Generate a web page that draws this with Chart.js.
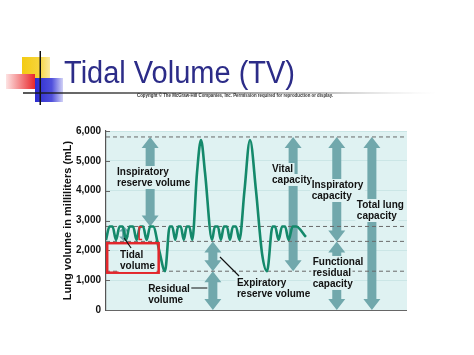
<!DOCTYPE html>
<html>
<head>
<meta charset="utf-8">
<script src="https://cdn.jsdelivr.net/npm/chart.js@4.4.0/dist/chart.umd.min.js"></script>
<style>
  html, body { margin: 0; padding: 0; background: #fff; }
  canvas { display: block; }
</style>
</head>
<body>
<canvas id="chart-area" width="474" height="355"></canvas>
<script>
// spirogram trace: time (s) and lung volume (mL)
const traceTime = [0.0, 0.35, 0.65, 1.0, 1.35, 1.65, 2.0, 2.35, 2.7, 3.05, 3.4, 3.7, 4.05, 4.4, 4.7, 5.3, 5.88,
  6.35, 6.6, 6.9, 7.2, 7.45, 7.75, 8.05, 8.3, 8.6, 9.07, 9.47, 9.87, 10.57,
  10.85, 11.15, 11.45, 11.75, 12.05, 12.35, 12.65, 12.95, 13.3, 13.8, 14.35, 14.95, 15.55, 16.05,
  16.6, 16.85, 17.2, 17.55, 17.85, 18.2, 18.6, 18.95, 19.93];
const traceVolume = [2350, 2800, 2800, 2350, 2800, 2800, 2350, 2800, 2800, 2350, 2800, 2800, 2350, 2800, 2800, 2000, 1300,
  2800, 2800, 2350, 2800, 2800, 2350, 2800, 2800, 2350, 4600, 5700, 4600, 2350,
  2800, 2800, 2350, 2800, 2800, 2350, 2800, 2800, 2350, 4000, 5700, 4000, 1900, 1300,
  2800, 2800, 2350, 2800, 2800, 2350, 2800, 2800, 2450];

// dashed reference levels (mL)
const levels = [5800, 2800, 2300, 1300];

const yTickLabels = ['0', '1,000', '2,000', '3,000', '4,000', '5,000', '6,000'];

// double arrows: position (s), from / to (mL)
const arrowTime = [4.4, 1.8, 10.65, 10.65, 18.65, 23.0, 23.0, 26.5];
const arrowFrom = [2800, 2300, 1300, 0, 1300, 2300, 0, 0];
const arrowTo = [5800, 2800, 2300, 1300, 5800, 5800, 2300, 5800];

// labels
const labelLines = [
  ['Inspiratory', 'reserve volume'],
  ['Vital', 'capacity'],
  ['Inspiratory', 'capacity'],
  ['Total lung', 'capacity'],
  ['Functional', 'residual', 'capacity'],
  ['Expiratory', 'reserve volume'],
  ['Residual', 'volume'],
  ['Tidal', 'volume']
];
const labelTime = [1.1, 16.55, 20.5, 25.0, 20.6, 13.05, 4.2, 1.4];
const labelVolume = [4625, 4726, 4190, 3520, 1610, 905, 704, 1844];

// leader lines [t0, v0, t1, v1]
const leaders = [
  [2.5, 2078, 1.8, 2413],
  [8.5, 737, 10.1, 737],
  [11.36, 1777, 13.26, 1140]
];

const panelColor = '#dff2f2';
const arrowColor = '#71a8ac';
const textFont = 'bold 10px "Liberation Sans", Arial, sans-serif';

function arrow(c, x, yTop, yBot, shaftW, headW, headH) {
  c.beginPath();
  c.moveTo(x, yTop);
  c.lineTo(x + headW / 2, yTop + headH);
  c.lineTo(x + shaftW / 2, yTop + headH);
  c.lineTo(x + shaftW / 2, yBot - headH);
  c.lineTo(x + headW / 2, yBot - headH);
  c.lineTo(x, yBot);
  c.lineTo(x - headW / 2, yBot - headH);
  c.lineTo(x - shaftW / 2, yBot - headH);
  c.lineTo(x - shaftW / 2, yTop + headH);
  c.lineTo(x - headW / 2, yTop + headH);
  c.closePath();
  c.fill();
}

const slide = {
  id: 'slide',
  beforeDraw(chart) {
    const c = chart.ctx, a = chart.chartArea;
    c.save();
    // slide decoration
    let g = c.createLinearGradient(22, 0, 50, 0);
    g.addColorStop(0, '#f3cb12'); g.addColorStop(0.6, '#f6d43a'); g.addColorStop(1, '#fbeaa0');
    c.fillStyle = g; c.fillRect(22, 57, 28, 25);
    g = c.createLinearGradient(6, 0, 35, 0);
    g.addColorStop(0, '#fde3e3'); g.addColorStop(1, '#e9272b');
    c.fillStyle = g; c.fillRect(6, 74, 29, 15);
    g = c.createLinearGradient(35, 0, 63, 0);
    g.addColorStop(0, '#2b2bcf'); g.addColorStop(0.6, '#5050dc'); g.addColorStop(1, '#d2d2f6');
    c.fillStyle = g; c.fillRect(35, 78, 28, 24);
    c.fillStyle = '#111'; c.fillRect(39.5, 51, 1.5, 54);
    g = c.createLinearGradient(23, 0, 435, 0);
    g.addColorStop(0, '#111'); g.addColorStop(0.3, '#444'); g.addColorStop(0.75, 'rgba(120,120,120,0.6)'); g.addColorStop(1, 'rgba(200,200,200,0)');
    c.fillStyle = g; c.fillRect(23, 92.3, 412, 1.4);
    // title
    c.font = '31px "Liberation Sans", Arial, sans-serif';
    c.fillStyle = '#2c2c88';
    c.textBaseline = 'alphabetic';
    let w = c.measureText('Tidal Volume (TV)').width;
    c.save(); c.translate(64, 83); c.scale(231 / w, 1);
    c.fillText('Tidal Volume (TV)', 0, 0); c.restore();
    // copyright
    c.font = 'bold 5px "Liberation Sans", Arial, sans-serif';
    c.fillStyle = '#333';
    const cp = 'Copyright \u00A9 The McGraw-Hill Companies, Inc. Permission required for reproduction or display.';
    w = c.measureText(cp).width;
    c.save(); c.translate(137, 97); c.scale(196 / w, 1); c.fillText(cp, 0, 0); c.restore();
    // panel
    c.fillStyle = panelColor;
    c.fillRect(a.left, a.top, a.right - a.left, a.bottom - a.top + 1);
    c.restore();
  },
  beforeDatasetsDraw(chart) {
    const c = chart.ctx, xs = chart.scales.x, ys = chart.scales.y;
    c.save();
    c.fillStyle = arrowColor;
    arrowTime.forEach((t, i) => {
      const x = xs.getPixelForValue(t);
      const y0 = ys.getPixelForValue(arrowTo[i]);
      const y1 = ys.getPixelForValue(arrowFrom[i]);
      if (y1 - y0 < 20) arrow(c, x, y0, y1, 4, 10, 5);
      else arrow(c, x, y0, y1, 9, 17, 11);
    });
    c.restore();
  },
  afterDatasetsDraw(chart) {
    const c = chart.ctx, xs = chart.scales.x, ys = chart.scales.y, a = chart.chartArea;
    c.save();
    // bottom axis line and inner tick marks
    c.strokeStyle = '#666'; c.lineWidth = 1.2;
    c.beginPath();
    c.moveTo(a.left, a.bottom + 0.5); c.lineTo(a.right, a.bottom + 0.5);
    ys.ticks.forEach(tk => {
      const y = Math.round(ys.getPixelForValue(tk.value)) + 0.5;
      c.moveTo(a.left, y); c.lineTo(a.left + 4, y);
    });
    c.stroke();
    // red tidal box
    c.strokeStyle = '#e3262b'; c.lineWidth = 2.5;
    const bx0 = xs.getPixelForValue(0.12), bx1 = xs.getPixelForValue(5.25);
    const by0 = ys.getPixelForValue(2240), by1 = ys.getPixelForValue(1250);
    c.strokeRect(bx0, by0, bx1 - bx0, by1 - by0);
    // red bracket
    c.lineWidth = 1.5;
    const rx = xs.getPixelForValue(3.3), rx2 = xs.getPixelForValue(3.6);
    const ry0 = ys.getPixelForValue(2780), ry1 = ys.getPixelForValue(2360);
    c.beginPath();
    c.moveTo(rx2, ry0); c.lineTo(rx, ry0); c.lineTo(rx, ry1); c.lineTo(rx2, ry1);
    c.stroke();
    // labels
    c.font = textFont;
    c.textBaseline = 'middle';
    c.textAlign = 'left';
    labelLines.forEach((lines, i) => {
      const x = xs.getPixelForValue(labelTime[i]);
      const y = ys.getPixelForValue(labelVolume[i]);
      lines.forEach((s, j) => {
        const tw = c.measureText(s).width;
        c.fillStyle = panelColor;
        c.fillRect(x - 1.5, y + j * 11 - 6, tw + 3, 12);
      });
      c.fillStyle = '#111';
      lines.forEach((s, j) => c.fillText(s, x, y + j * 11));
    });
    // leader lines
    c.strokeStyle = '#111'; c.lineWidth = 1.2;
    c.beginPath();
    leaders.forEach(l => {
      c.moveTo(xs.getPixelForValue(l[0]), ys.getPixelForValue(l[1]));
      c.lineTo(xs.getPixelForValue(l[2]), ys.getPixelForValue(l[3]));
    });
    c.stroke();
    c.restore();
  }
};

const datasets = [{
  data: traceTime.map((t, i) => ({ x: t, y: traceVolume[i] })),
  borderColor: '#14896b',
  borderWidth: 2.6,
  pointRadius: 0,
  cubicInterpolationMode: 'monotone',
  order: 0
}].concat(levels.map(v => ({
  data: [{ x: 0, y: v }, { x: 30, y: v }],
  borderColor: '#6a6a6a',
  borderWidth: 1,
  borderDash: [4, 3],
  pointRadius: 0,
  order: 1
})));

let ctx = document.getElementById('chart-area').getContext('2d');
let chart = new Chart(ctx, {
  type: 'line',
  data: { datasets: datasets },
  options: {
    responsive: false,
    animation: false,
    layout: { padding: { top: 131, right: 67, bottom: 45, left: 0 } },
    plugins: { legend: { display: false }, tooltip: { enabled: false } },
    scales: {
      x: { type: 'linear', min: 0, max: 30, display: false },
      y: {
        min: 0, max: 6000,
        afterFit: s => { s.width = 106; },
        ticks: {
          stepSize: 1000,
          padding: 5,
          color: '#111',
          font: { family: '"Liberation Sans", Arial, sans-serif', size: 10, weight: 'bold' },
          callback: (v, i) => yTickLabels[i]
        },
        grid: { color: 'rgba(190,222,222,0.6)', drawTicks: false },
        border: { color: '#555', width: 1.2 },
        title: {
          display: true,
          text: 'Lung volume in milliliters (mL)',
          color: '#111',
          padding: { top: 61, bottom: 0 },
          font: { family: '"Liberation Sans", Arial, sans-serif', size: 11, weight: 'bold' }
        }
      }
    }
  },
  plugins: [slide]
});
</script>
</body>
</html>
